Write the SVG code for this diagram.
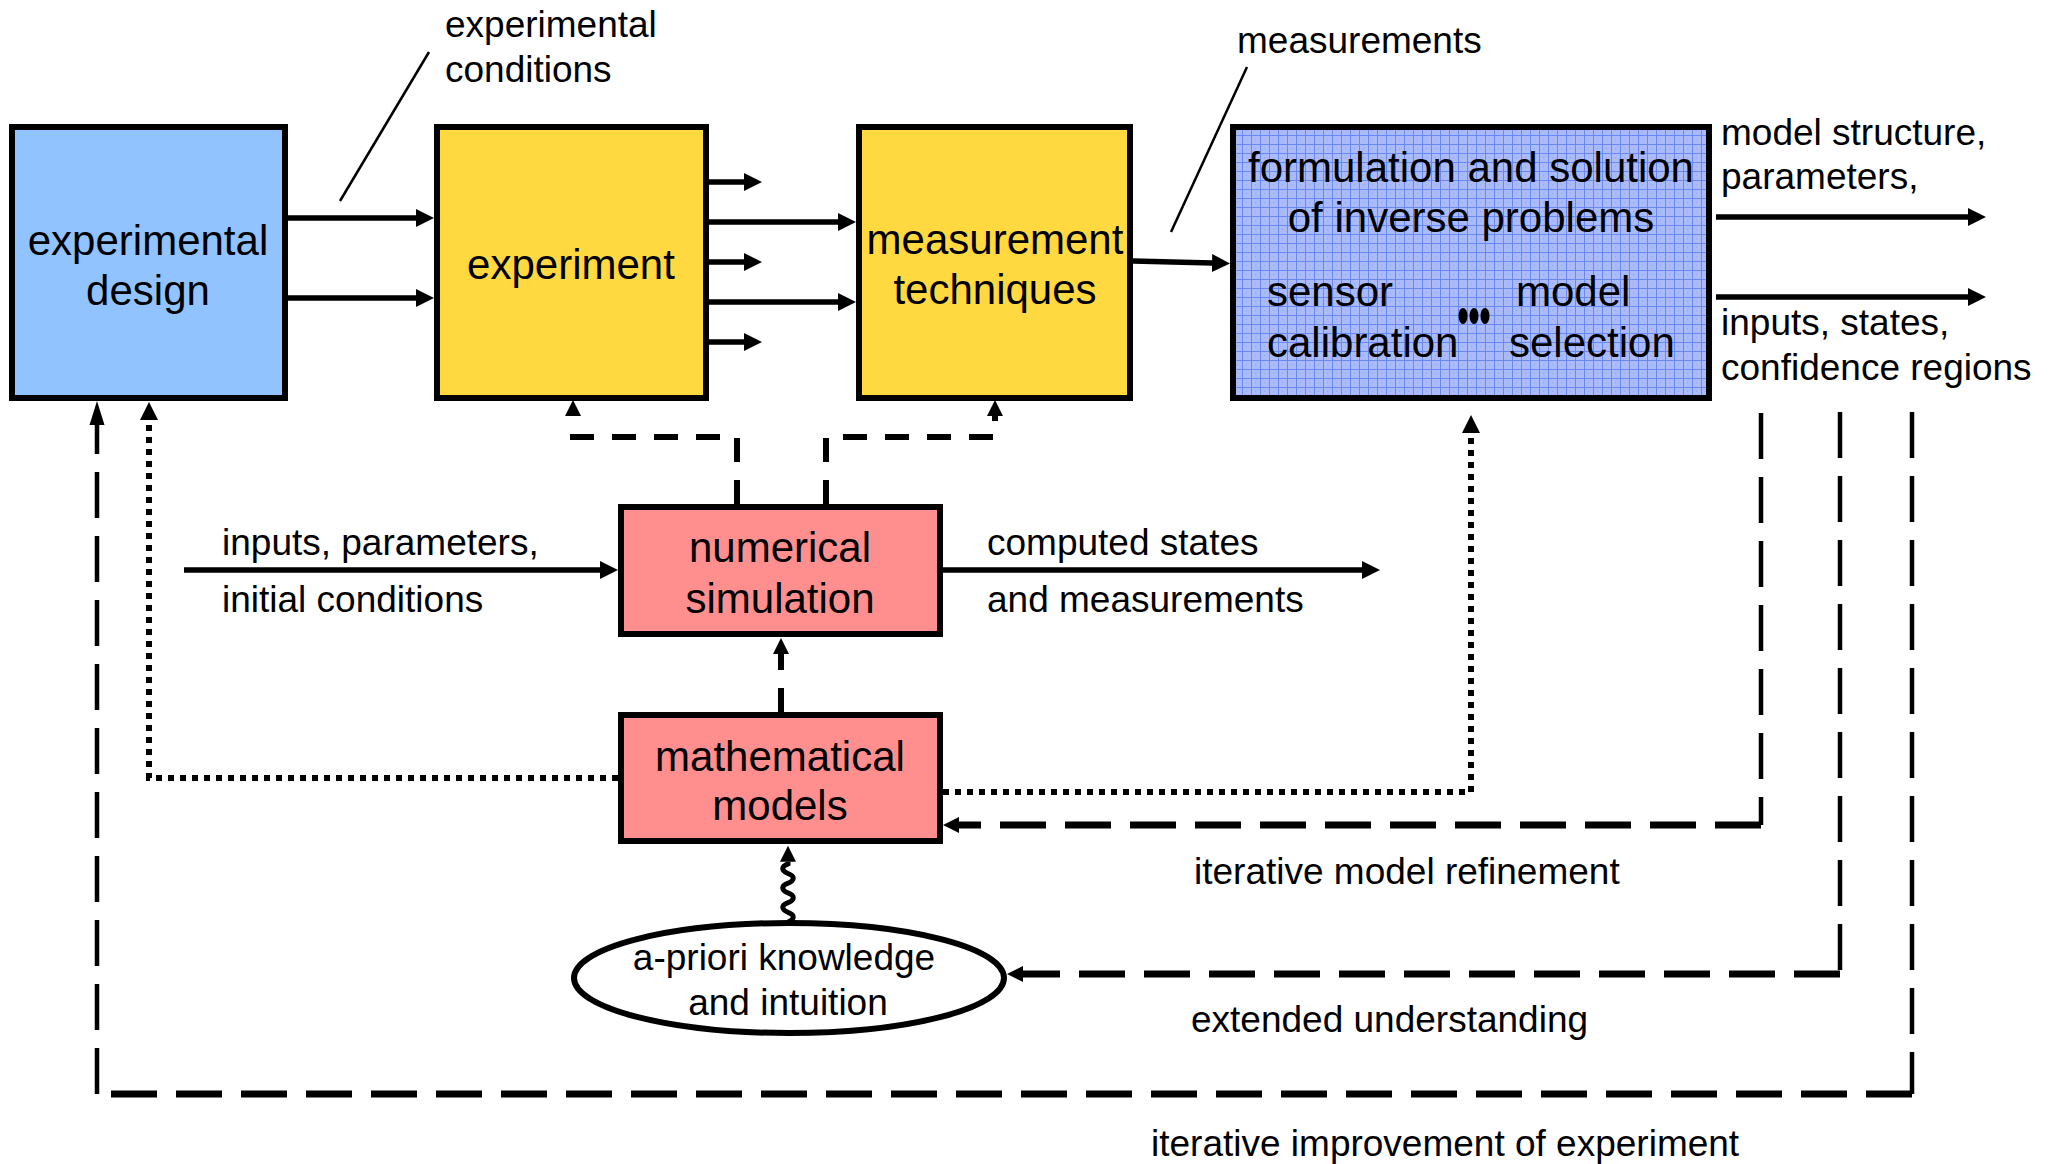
<svg xmlns="http://www.w3.org/2000/svg" width="2056" height="1164" viewBox="0 0 2056 1164">
  <defs>
    <style>
      .box { stroke: #000; stroke-width: 6; }
      .big { font-family: "Liberation Sans", Arial, sans-serif; font-size: 42px; fill: #000; }
      .lbl { font-family: "Liberation Sans", Arial, sans-serif; font-size: 37px; fill: #000; }
      .mid { text-anchor: middle; }
      .solid { fill: none; stroke: #000; stroke-width: 5.5; }
      .thin { fill: none; stroke: #000; stroke-width: 2.5; }
      .dash { fill: none; stroke: #000; stroke-width: 6; stroke-dasharray: 24 18; }
      .dot { fill: none; stroke: #000; stroke-width: 6; stroke-dasharray: 6 6; }
      .longv { fill: none; stroke: #000; stroke-width: 4.5; stroke-dasharray: 46 18; }
      .longh { fill: none; stroke: #000; stroke-width: 7; stroke-dasharray: 46 19; }
      .wave { fill: none; stroke: #000; stroke-width: 5; }
    </style>
    <marker id="ah" markerUnits="userSpaceOnUse" markerWidth="18" markerHeight="18" refX="0" refY="9" orient="auto">
      <path d="M0,0 L18,9 L0,18 Z" fill="#000"/>
    </marker>
    <marker id="ahs" markerUnits="userSpaceOnUse" markerWidth="16" markerHeight="16" refX="0" refY="8" orient="auto">
      <path d="M0,0 L16,8 L0,16 Z" fill="#000"/>
    </marker>
    <marker id="ahl" markerUnits="userSpaceOnUse" markerWidth="24" markerHeight="16" refX="0" refY="8" orient="auto">
      <path d="M0,0.5 L24,8 L0,15.5 Z" fill="#000"/>
    </marker>
    <pattern id="grid" width="9" height="9" patternUnits="userSpaceOnUse">
      <rect width="9" height="9" fill="#ABBBFA"/>
      <rect x="4" y="4" width="1" height="1" fill="#90A5F6"/>
      <path d="M0.5,0 V9 M0,0.5 H9" stroke="#6A88F2" stroke-width="1"/>
    </pattern>
  </defs>

  <rect width="2056" height="1164" fill="#fff"/>

  <!-- connectors -->
  <g id="connectors">
    <!-- annotation leader lines -->
    <path class="thin" d="M340,201 L429,52"/>
    <path class="thin" d="M1171,232 L1247,67"/>

    <!-- experimental design -> experiment -->
    <path class="solid" d="M287,218 H416" marker-end="url(#ah)"/>
    <path class="solid" d="M287,298 H416" marker-end="url(#ah)"/>

    <!-- experiment outputs -->
    <path class="solid" d="M709,182 H744" marker-end="url(#ah)"/>
    <path class="solid" d="M709,222 H838" marker-end="url(#ah)"/>
    <path class="solid" d="M709,262 H744" marker-end="url(#ah)"/>
    <path class="solid" d="M709,302 H838" marker-end="url(#ah)"/>
    <path class="solid" d="M709,342 H744" marker-end="url(#ah)"/>

    <!-- measurement techniques -> inverse problems -->
    <path class="solid" d="M1133,261 L1212,263" marker-end="url(#ah)"/>

    <!-- inverse problem results -->
    <path class="solid" d="M1716,217 H1968" marker-end="url(#ah)"/>
    <path class="solid" d="M1716,297 H1968" marker-end="url(#ah)"/>

    <!-- simulation inputs / outputs -->
    <path class="solid" d="M184,570 H600" marker-end="url(#ah)"/>
    <path class="solid" d="M943,570 H1362" marker-end="url(#ah)"/>

    <!-- simulation feeds experiment and measurement -->
    <path class="dash" d="M737,504 V437 H573 V416" marker-end="url(#ahs)"/>
    <path class="dash" d="M826,504 V437 H995 V416" marker-end="url(#ahs)"/>

    <!-- models -> simulation -->
    <path class="dash" d="M781,712 V654" marker-end="url(#ahs)"/>

    <!-- models -> experimental design / inverse problems -->
    <path class="dot" d="M618,778 H149 V420" marker-end="url(#ah)"/>
    <path class="dot" d="M943,792 H1471 V433" marker-end="url(#ah)"/>

    <!-- a-priori knowledge -> models -->
    <path class="wave" d="M788,922 c7,-3 7,-7 0,-9.7 c-7,-3 -7,-7 0,-9.7 c7,-3 7,-7 0,-9.7 c-7,-3 -7,-7 0,-9.7 c7,-3 7,-7 0,-9.7 c-7,-3 -7,-7 0,-9.7 v-2" marker-end="url(#ahs)"/>

    <!-- iterative model refinement loop -->
    <path class="longv" d="M1761,413 V825"/>
    <path class="longh" d="M1761,825 H959" marker-end="url(#ahs)"/>

    <!-- extended understanding loop -->
    <path class="longv" d="M1840,412 V974"/>
    <path class="longh" d="M1840,974 H1023" marker-end="url(#ahs)"/>

    <!-- iterative improvement of experiment loop -->
    <path class="longv" d="M1912,412 V1094"/>
    <path class="longh" d="M1912,1094 H97"/>
    <path class="longv" d="M97,1094 V425" marker-end="url(#ahl)"/>
  </g>

  <!-- nodes -->
  <g id="experimental-design">
    <rect class="box" x="12" y="127" width="273" height="271" fill="#90C3FF"/>
    <text class="big mid" x="148" y="255">experimental</text>
    <text class="big mid" x="148" y="305">design</text>
  </g>

  <g id="experiment">
    <rect class="box" x="437" y="127" width="269" height="271" fill="#FFD93F"/>
    <text class="big mid" x="571" y="279">experiment</text>
  </g>

  <g id="measurement-techniques">
    <rect class="box" x="859" y="127" width="271" height="271" fill="#FFD93F"/>
    <text class="big mid" x="995" y="254">measurement</text>
    <text class="big mid" x="995" y="304">techniques</text>
  </g>

  <g id="inverse-problems">
    <rect class="box" x="1233" y="127" width="476" height="271" fill="url(#grid)"/>
    <text class="big mid" x="1471" y="182">formulation and solution</text>
    <text class="big mid" x="1471" y="232">of inverse problems</text>
    <text class="big" x="1267" y="306">sensor</text>
    <text class="big" x="1267" y="357">calibration</text>
    <text class="big" x="1516" y="306">model</text>
    <text class="big" x="1509" y="357">selection</text>
    <ellipse cx="1463" cy="316" rx="4.5" ry="8" fill="#000"/>
    <ellipse cx="1474" cy="316" rx="4.5" ry="8" fill="#000"/>
    <ellipse cx="1485" cy="316" rx="4.5" ry="8" fill="#000"/>
  </g>

  <g id="numerical-simulation">
    <rect class="box" x="621" y="507" width="319" height="127" fill="#FF8F8F"/>
    <text class="big mid" x="780" y="562">numerical</text>
    <text class="big mid" x="780" y="613">simulation</text>
  </g>

  <g id="mathematical-models">
    <rect class="box" x="621" y="715" width="319" height="126" fill="#FF8F8F"/>
    <text class="big mid" x="780" y="771">mathematical</text>
    <text class="big mid" x="780" y="820">models</text>
  </g>

  <g id="a-priori-knowledge">
    <ellipse cx="789" cy="978" rx="215" ry="55" fill="#fff" stroke="#000" stroke-width="6"/>
    <text class="lbl mid" x="784" y="970">a-priori knowledge</text>
    <text class="lbl mid" x="788" y="1015">and intuition</text>
  </g>

  <!-- edge labels -->
  <g id="labels">
    <text class="lbl" x="445" y="37">experimental</text>
    <text class="lbl" x="445" y="82">conditions</text>
    <text class="lbl" x="1237" y="53">measurements</text>
    <text class="lbl" x="1721" y="145">model structure,</text>
    <text class="lbl" x="1721" y="189">parameters,</text>
    <text class="lbl" x="1721" y="335">inputs, states,</text>
    <text class="lbl" x="1721" y="380">confidence regions</text>
    <text class="lbl" x="222" y="555">inputs, parameters,</text>
    <text class="lbl" x="222" y="612">initial conditions</text>
    <text class="lbl" x="987" y="555">computed states</text>
    <text class="lbl" x="987" y="612">and measurements</text>
    <text class="lbl" x="1194" y="884">iterative model refinement</text>
    <text class="lbl" x="1191" y="1032">extended understanding</text>
    <text class="lbl" x="1151" y="1156">iterative improvement of experiment</text>
  </g>
</svg>
